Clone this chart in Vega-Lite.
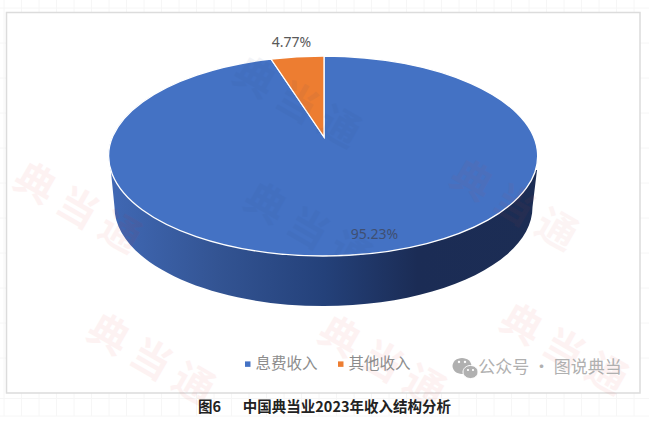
{"$schema":"https://vega.github.io/schema/vega-lite/v6.json","width":649,"height":426,"padding":0,"autosize":"none","background":"#ffffff","view":{"stroke":null},
"title":{"text":"图6\u3000\u2002中国典当业2023年收入结构分析","orient":"bottom","anchor":"middle","offset":-25,"font":"Noto Sans CJK SC","fontSize":14.5,"fontWeight":"bold","color":"#222222"},
"datasets":{"slices":[{"name":"息费收入","slice":"main","share":0.9523},{"name":"其他收入","slice":"minor","share":0.0477}],"one":[{"note":"decor"}]},
"config":{"style":{"wm":{"font":"Noto Sans CJK SC","fontWeight":"bold","fontSize":40,"opacity":0.05,"angle":30,"align":"center","baseline":"middle","text":"典 当 通"}}},
"layer":[
{"data":{"name":"one"},"mark":{"type":"point","size":4,"opacity":1,"filled":false,"fillOpacity":0,"stroke":"#f6f6f6","strokeWidth":1,"shape":"M-320.5,-213V203M-303,-213V203M-285.5,-213V203M-268,-213V203M-250.5,-213V203M-233,-213V203M-215.5,-213V203M-198,-213V203M-180.5,-213V203M-163,-213V203M-145.5,-213V203M-128,-213V203M-110.5,-213V203M-93,-213V203M-75.5,-213V203M-58,-213V203M-40.5,-213V203M-23,-213V203M-5.5,-213V203M12,-213V203M29.5,-213V203M47,-213V203M64.5,-213V203M82,-213V203M99.5,-213V203M117,-213V203M134.5,-213V203M152,-213V203M169.5,-213V203M187,-213V203M204.5,-213V203M222,-213V203M239.5,-213V203M257,-213V203M274.5,-213V203M292,-213V203M309.5,-213V203M-324.5,-205H324.5M-324.5,-170H324.5M-324.5,-135H324.5M-324.5,-100H324.5M-324.5,-65H324.5M-324.5,-30H324.5M-324.5,5H324.5M-324.5,40H324.5M-324.5,75H324.5M-324.5,110H324.5M-324.5,145H324.5M-324.5,185.5H324.5M-324.5,203H324.5"}},
{"data":{"name":"one"},"mark":{"type":"point","size":4,"opacity":1,"filled":true,"fill":"#ffffff","stroke":"#dcdcdc","strokeWidth":1.5,"shape":"M-318,-200.5H315.5V180H-318Z"}},
{"data":{"name":"one"},"mark":{"type":"point","size":4,"opacity":1,"filled":true,"fill":{"gradient":"linear","x1":0,"y1":0,"x2":1,"y2":0,"stops":[{"offset":0,"color":"#4068b4"},{"offset":0.25,"color":"#335493"},{"offset":0.5,"color":"#24417a"},{"offset":0.72,"color":"#1b2c55"},{"offset":1,"color":"#1c2d54"}]},"stroke":null,"shape":"M-214,-46L-210,-6A209,99 0 0 0 208,-6L212.5,-43Z"}},
{"data":{"name":"slices"},"mark":{"type":"point","size":4,"opacity":1,"filled":true,"stroke":"#ffffff","strokeWidth":1.3},
"encoding":{"shape":{"field":"slice","type":"nominal","scale":{"domain":["main","minor"],"range":["M-0.5,-76L-0.5,-157A214.5,100 0 1 1 -53.5,-154Z","M-0.5,-76L-53.5,-154A214.5,100 0 0 1 -0.5,-157Z"]},"legend":null},
"color":{"field":"name","type":"nominal","scale":{"domain":["息费收入","其他收入"],"range":["#4472c4","#ed7d31"]},"legend":{"title":null,"orient":"none","legendX":240,"legendY":356,"direction":"horizontal","symbolType":"square","symbolSize":30,"symbolStrokeWidth":0,"labelFont":"Noto Sans CJK SC","labelFontSize":15.5,"labelColor":"#8c8c8c","labelOffset":0,"columnPadding":15,"labelLimit":200}}}},
{"data":{"name":"slices"},"transform":[{"filter":"datum.name === '其他收入'"}],"mark":{"type":"text","font":"Noto Sans","fontSize":14,"color":"#595959","dx":-33,"dy":-170},"encoding":{"text":{"field":"share","type":"quantitative","format":".2%"}}},
{"data":{"name":"slices"},"transform":[{"filter":"datum.name === '息费收入'"}],"mark":{"type":"text","font":"Noto Sans","fontSize":14,"color":"#3f4f72","dx":50,"dy":22},"encoding":{"text":{"field":"share","type":"quantitative","format":".2%"}}},
{"data":{"name":"one"},"mark":{"type":"text","style":"wm","color":"#e02020","dx":-216.5,"dy":121}},
{"data":{"name":"one"},"mark":{"type":"text","style":"wm","color":"#e02020","dx":123.9,"dy":101.7}},
{"data":{"name":"one"},"mark":{"type":"text","style":"wm","color":"#e02020","dx":-77.1,"dy":215.4}},
{"data":{"name":"one"},"mark":{"type":"text","style":"wm","color":"#e02020","dx":275.5,"dy":0.3}},
{"data":{"name":"one"},"mark":{"type":"text","style":"wm","color":"#24417a","dx":-6.7,"dy":23.5}},
{"data":{"name":"one"},"mark":{"type":"text","style":"wm","color":"#24417a","dx":-79.2,"dy":-80.1}},
{"data":{"name":"one"},"mark":{"type":"text","style":"wm","color":"#d04040","dx":160.2,"dy":-99.5}},
{"data":{"name":"one"},"mark":{"type":"point","size":4,"opacity":1,"filled":true,"fill":"#b0b0b0","stroke":null,"shape":"M128,153A9.5,8 0 1 1 147,153A9.5,8 0 1 1 128,153Z"}},
{"data":{"name":"one"},"mark":{"type":"point","size":4,"opacity":1,"filled":true,"fill":"#b0b0b0","stroke":"#ffffff","strokeWidth":1,"shape":"M138.5,159A7.5,6.5 0 1 1 153.5,159A7.5,6.5 0 1 1 138.5,159Z"}},
{"data":{"name":"one"},"mark":{"type":"point","size":4,"opacity":1,"filled":true,"fill":"#ffffff","stroke":null,"shape":"M133.3,149A1.2,1.2 0 1 1 135.7,149A1.2,1.2 0 1 1 133.3,149ZM139.3,149A1.2,1.2 0 1 1 141.7,149A1.2,1.2 0 1 1 139.3,149ZM142.5,157A1,1 0 1 1 144.5,157A1,1 0 1 1 142.5,157ZM147.5,157A1,1 0 1 1 149.5,157A1,1 0 1 1 147.5,157Z"}},
{"data":{"name":"one"},"mark":{"type":"text","text":"公众号 · 图说典当","font":"Noto Sans CJK SC","fontSize":17,"color":"#b0b0b0","dx":225.5,"dy":155}}
]}
